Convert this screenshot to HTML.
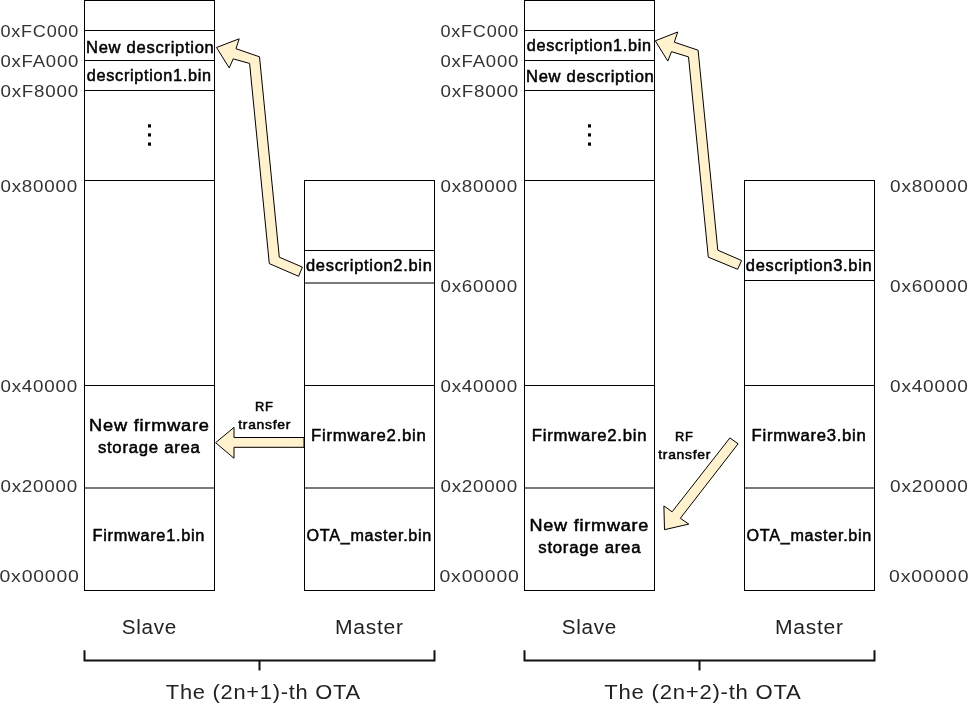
<!DOCTYPE html>
<html><head><meta charset="utf-8"><style>
html,body{margin:0;padding:0;background:#fff;width:969px;height:706px;overflow:hidden}
svg{position:absolute;left:0;top:0;display:block;will-change:transform}
text{font-family:"Liberation Sans", sans-serif;}
</style></head><body>
<svg width="969" height="706" viewBox="0 0 969 706">
<rect x="84.5" y="0.5" width="130" height="590" stroke="#000" stroke-width="1" fill="none"/>
<path d="M84,30.5H215" stroke="#000" stroke-width="1"/>
<path d="M84,60.5H215" stroke="#000" stroke-width="1"/>
<path d="M84,90.5H215" stroke="#000" stroke-width="1"/>
<path d="M84,180.5H215" stroke="#000" stroke-width="1"/>
<path d="M84,385.5H215" stroke="#000" stroke-width="1"/>
<rect x="85" y="487" width="129" height="2" fill="#7a7a7a"/>
<rect x="304.5" y="180.5" width="130" height="410" stroke="#000" stroke-width="1" fill="none"/>
<path d="M304,250.5H435" stroke="#000" stroke-width="1"/>
<path d="M305,385.5H434" stroke="#000" stroke-width="1"/>
<rect x="305" y="487" width="129" height="2" fill="#7a7a7a"/>
<path d="M84.5,650.2 V660.4 H434.5 V650.2 M259.5,660.4 V670.5" stroke="#111" stroke-width="2" fill="none"/>
<rect x="148" y="124.3" width="3" height="3.2" fill="#000"/>
<rect x="148" y="133.3" width="3" height="3.2" fill="#000"/>
<rect x="148" y="142.5" width="3" height="3.2" fill="#000"/>
<rect x="524.5" y="0.5" width="130" height="590" stroke="#000" stroke-width="1" fill="none"/>
<path d="M524,30.5H655" stroke="#000" stroke-width="1"/>
<path d="M524,60.5H655" stroke="#000" stroke-width="1"/>
<path d="M524,90.5H655" stroke="#000" stroke-width="1"/>
<path d="M524,180.5H655" stroke="#000" stroke-width="1"/>
<path d="M524,385.5H655" stroke="#000" stroke-width="1"/>
<rect x="525" y="487" width="129" height="2" fill="#7a7a7a"/>
<rect x="744.5" y="180.5" width="130" height="410" stroke="#000" stroke-width="1" fill="none"/>
<path d="M744,250.5H875" stroke="#000" stroke-width="1"/>
<path d="M745,385.5H874" stroke="#000" stroke-width="1"/>
<rect x="745" y="487" width="129" height="2" fill="#7a7a7a"/>
<path d="M524.5,650.2 V660.4 H874.5 V650.2 M699.5,660.4 V670.5" stroke="#111" stroke-width="2" fill="none"/>
<rect x="588" y="124.3" width="3" height="3.2" fill="#000"/>
<rect x="588" y="133.3" width="3" height="3.2" fill="#000"/>
<rect x="588" y="142.5" width="3" height="3.2" fill="#000"/>
<rect x="305" y="282" width="129" height="2" fill="#7a7a7a"/>
<path d="M745,280.5H874" stroke="#000" stroke-width="1"/>
<polygon points="216.5,47.5 239.2,38.8 236,48.7 259.5,56.8 279.3,257.2 302.4,267.1 298.6,276.3 269.3,263.6 249.6,63.4 233.2,58.9 229.2,67.9" fill="#fff2cc" stroke="#000" stroke-width="1" stroke-linejoin="miter"/>
<polygon points="655.3,40.8 677.7,32 674.3,42.2 698.1,50.2 717.8,250.2 741.6,260.5 737.6,269.3 708.3,257.2 688.5,56.9 671.5,51.7 667.8,61.1" fill="#fff2cc" stroke="#000" stroke-width="1" stroke-linejoin="miter"/>
<polygon points="215.6,442.7 234,427.4 234,437.5 304,437.5 304,447.3 234,447.3 234,458.3" fill="#fff2cc" stroke="#000" stroke-width="1" stroke-linejoin="miter"/>
<polygon points="729.9,437.9 738.1,443.8 680.3,518.3 688.8,524.1 664.5,529.7 663.9,505.9 672.1,511.8" fill="#fff2cc" stroke="#000" stroke-width="1" stroke-linejoin="miter"/>
<text x="86.00" y="52.80" textLength="128.54" lengthAdjust="spacingAndGlyphs" font-size="16" font-weight="400" letter-spacing="0.7" fill="#000" stroke="#000" stroke-width="0.5">New description</text>
<text x="86.80" y="80.70" textLength="124.95" lengthAdjust="spacingAndGlyphs" font-size="16" font-weight="400" letter-spacing="0.7" fill="#000" stroke="#000" stroke-width="0.5">description1.bin</text>
<text x="89.10" y="431.00" textLength="120.67" lengthAdjust="spacingAndGlyphs" font-size="16" font-weight="400" letter-spacing="0.7" fill="#000" stroke="#000" stroke-width="0.5">New firmware</text>
<text x="97.90" y="453.20" textLength="102.65" lengthAdjust="spacingAndGlyphs" font-size="16" font-weight="400" letter-spacing="0.7" fill="#000" stroke="#000" stroke-width="0.5">storage area</text>
<text x="92.50" y="540.90" textLength="112.56" lengthAdjust="spacingAndGlyphs" font-size="16" font-weight="400" letter-spacing="0.7" fill="#000" stroke="#000" stroke-width="0.5">Firmware1.bin</text>
<text x="306.00" y="271.30" textLength="126.61" lengthAdjust="spacingAndGlyphs" font-size="16" font-weight="400" letter-spacing="0.7" fill="#000" stroke="#000" stroke-width="0.5">description2.bin</text>
<text x="311.10" y="441.20" textLength="115.45" lengthAdjust="spacingAndGlyphs" font-size="16" font-weight="400" letter-spacing="0.7" fill="#000" stroke="#000" stroke-width="0.5">Firmware2.bin</text>
<text x="306.60" y="540.60" textLength="125.43" lengthAdjust="spacingAndGlyphs" font-size="16" font-weight="400" letter-spacing="0.7" fill="#000" stroke="#000" stroke-width="0.5">OTA_master.bin</text>
<text x="255.00" y="411.40" textLength="18.56" lengthAdjust="spacingAndGlyphs" font-size="13" font-weight="400" letter-spacing="0.7" fill="#000" stroke="#000" stroke-width="0.5">RF</text>
<text x="238.20" y="429.10" textLength="52.95" lengthAdjust="spacingAndGlyphs" font-size="13" font-weight="400" letter-spacing="0.7" fill="#000" stroke="#000" stroke-width="0.5">transfer</text>
<text x="526.80" y="50.80" textLength="124.95" lengthAdjust="spacingAndGlyphs" font-size="16" font-weight="400" letter-spacing="0.7" fill="#000" stroke="#000" stroke-width="0.5">description1.bin</text>
<text x="526.00" y="82.30" textLength="128.54" lengthAdjust="spacingAndGlyphs" font-size="16" font-weight="400" letter-spacing="0.7" fill="#000" stroke="#000" stroke-width="0.5">New description</text>
<text x="531.80" y="440.90" textLength="115.46" lengthAdjust="spacingAndGlyphs" font-size="16" font-weight="400" letter-spacing="0.7" fill="#000" stroke="#000" stroke-width="0.5">Firmware2.bin</text>
<text x="529.50" y="531.20" textLength="119.65" lengthAdjust="spacingAndGlyphs" font-size="16" font-weight="400" letter-spacing="0.7" fill="#000" stroke="#000" stroke-width="0.5">New firmware</text>
<text x="538.30" y="552.90" textLength="102.95" lengthAdjust="spacingAndGlyphs" font-size="16" font-weight="400" letter-spacing="0.7" fill="#000" stroke="#000" stroke-width="0.5">storage area</text>
<text x="745.80" y="270.60" textLength="126.66" lengthAdjust="spacingAndGlyphs" font-size="16" font-weight="400" letter-spacing="0.7" fill="#000" stroke="#000" stroke-width="0.5">description3.bin</text>
<text x="751.60" y="441.20" textLength="114.87" lengthAdjust="spacingAndGlyphs" font-size="16" font-weight="400" letter-spacing="0.7" fill="#000" stroke="#000" stroke-width="0.5">Firmware3.bin</text>
<text x="746.60" y="540.60" textLength="125.43" lengthAdjust="spacingAndGlyphs" font-size="16" font-weight="400" letter-spacing="0.7" fill="#000" stroke="#000" stroke-width="0.5">OTA_master.bin</text>
<text x="675.00" y="441.40" textLength="18.56" lengthAdjust="spacingAndGlyphs" font-size="13" font-weight="400" letter-spacing="0.7" fill="#000" stroke="#000" stroke-width="0.5">RF</text>
<text x="658.20" y="459.10" textLength="52.95" lengthAdjust="spacingAndGlyphs" font-size="13" font-weight="400" letter-spacing="0.7" fill="#000" stroke="#000" stroke-width="0.5">transfer</text>
<text x="0.40" y="37.00" textLength="78.71" lengthAdjust="spacingAndGlyphs" font-size="16.5" font-weight="400" letter-spacing="0.7" fill="#333333">0xFC000</text>
<text x="0.40" y="66.70" textLength="78.71" lengthAdjust="spacingAndGlyphs" font-size="16.5" font-weight="400" letter-spacing="0.7" fill="#333333">0xFA000</text>
<text x="0.40" y="96.80" textLength="78.72" lengthAdjust="spacingAndGlyphs" font-size="16.5" font-weight="400" letter-spacing="0.7" fill="#333333">0xF8000</text>
<text x="440.40" y="37.00" textLength="78.71" lengthAdjust="spacingAndGlyphs" font-size="16.5" font-weight="400" letter-spacing="0.7" fill="#333333">0xFC000</text>
<text x="440.40" y="66.70" textLength="78.71" lengthAdjust="spacingAndGlyphs" font-size="16.5" font-weight="400" letter-spacing="0.7" fill="#333333">0xFA000</text>
<text x="440.40" y="96.80" textLength="78.72" lengthAdjust="spacingAndGlyphs" font-size="16.5" font-weight="400" letter-spacing="0.7" fill="#333333">0xF8000</text>
<text x="0.40" y="192.10" textLength="77.69" lengthAdjust="spacingAndGlyphs" font-size="16.5" font-weight="400" letter-spacing="0.7" fill="#333333">0x80000</text>
<text x="0.40" y="392.10" textLength="77.69" lengthAdjust="spacingAndGlyphs" font-size="16.5" font-weight="400" letter-spacing="0.7" fill="#333333">0x40000</text>
<text x="0.40" y="492.00" textLength="77.69" lengthAdjust="spacingAndGlyphs" font-size="16.5" font-weight="400" letter-spacing="0.7" fill="#333333">0x20000</text>
<text x="-0.50" y="582.20" textLength="80.19" lengthAdjust="spacingAndGlyphs" font-size="16.5" font-weight="400" letter-spacing="0.7" fill="#333333">0x00000</text>
<text x="440.40" y="192.10" textLength="77.69" lengthAdjust="spacingAndGlyphs" font-size="16.5" font-weight="400" letter-spacing="0.7" fill="#333333">0x80000</text>
<text x="440.40" y="392.10" textLength="77.69" lengthAdjust="spacingAndGlyphs" font-size="16.5" font-weight="400" letter-spacing="0.7" fill="#333333">0x40000</text>
<text x="440.40" y="492.00" textLength="77.69" lengthAdjust="spacingAndGlyphs" font-size="16.5" font-weight="400" letter-spacing="0.7" fill="#333333">0x20000</text>
<text x="439.50" y="582.20" textLength="80.19" lengthAdjust="spacingAndGlyphs" font-size="16.5" font-weight="400" letter-spacing="0.7" fill="#333333">0x00000</text>
<text x="890.00" y="192.10" textLength="78.71" lengthAdjust="spacingAndGlyphs" font-size="16.5" font-weight="400" letter-spacing="0.7" fill="#333333">0x80000</text>
<text x="890.00" y="392.10" textLength="78.71" lengthAdjust="spacingAndGlyphs" font-size="16.5" font-weight="400" letter-spacing="0.7" fill="#333333">0x40000</text>
<text x="890.00" y="492.00" textLength="78.71" lengthAdjust="spacingAndGlyphs" font-size="16.5" font-weight="400" letter-spacing="0.7" fill="#333333">0x20000</text>
<text x="889.10" y="582.20" textLength="80.19" lengthAdjust="spacingAndGlyphs" font-size="16.5" font-weight="400" letter-spacing="0.7" fill="#333333">0x00000</text>
<text x="440.40" y="292.00" textLength="77.69" lengthAdjust="spacingAndGlyphs" font-size="16.5" font-weight="400" letter-spacing="0.7" fill="#333333">0x60000</text>
<text x="890.00" y="292.00" textLength="78.71" lengthAdjust="spacingAndGlyphs" font-size="16.5" font-weight="400" letter-spacing="0.7" fill="#333333">0x60000</text>
<text x="121.70" y="634.00" textLength="55.16" lengthAdjust="spacingAndGlyphs" font-size="20.5" font-weight="400" letter-spacing="0.7" fill="#222">Slave</text>
<text x="335.10" y="634.00" textLength="68.61" lengthAdjust="spacingAndGlyphs" font-size="20.5" font-weight="400" letter-spacing="0.7" fill="#222">Master</text>
<text x="165.80" y="699.30" textLength="195.02" lengthAdjust="spacingAndGlyphs" font-size="21" font-weight="400" letter-spacing="0.7" fill="#222">The (2n+1)-th OTA</text>
<text x="561.70" y="634.00" textLength="55.16" lengthAdjust="spacingAndGlyphs" font-size="20.5" font-weight="400" letter-spacing="0.7" fill="#222">Slave</text>
<text x="775.10" y="634.00" textLength="68.61" lengthAdjust="spacingAndGlyphs" font-size="20.5" font-weight="400" letter-spacing="0.7" fill="#222">Master</text>
<text x="604.30" y="699.30" textLength="197.22" lengthAdjust="spacingAndGlyphs" font-size="21" font-weight="400" letter-spacing="0.7" fill="#222">The (2n+2)-th OTA</text>
</svg>
</body></html>
